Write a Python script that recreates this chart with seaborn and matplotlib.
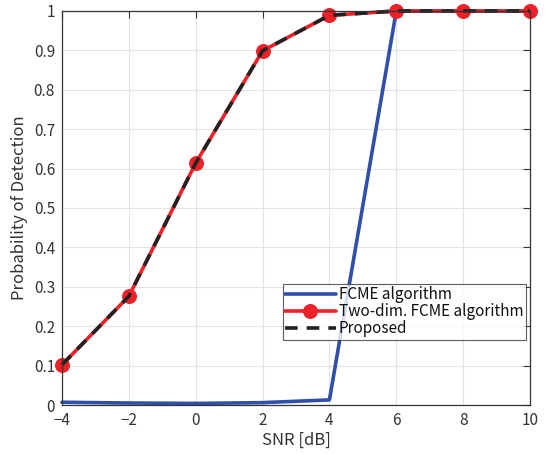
import matplotlib
matplotlib.use("Agg")
import matplotlib.pyplot as plt
import seaborn as sns
import pandas as pd

snr_db = [-4, -2, 0, 2, 4, 6, 8, 10]
fcme = [0.007, 0.005, 0.004, 0.006, 0.013, 1.0, 1.0, 1.0]
two_dim_fcme = [0.102, 0.276, 0.614, 0.899, 0.989, 1.0, 1.0, 1.0]
proposed = [0.102, 0.276, 0.614, 0.899, 0.989, 1.0, 1.0, 1.0]
x_ticks = [-4, -2, 0, 2, 4, 6, 8, 10]
y_ticks = [0, 0.1, 0.2, 0.3, 0.4, 0.5, 0.6, 0.7, 0.8, 0.9, 1]

sns.set_style("white")
plt.rcParams["font.family"] = ["Noto Sans CJK JP", "DejaVu Sans"]
plt.rcParams["axes.unicode_minus"] = True

df = pd.DataFrame({"snr": snr_db, "fcme": fcme, "two": two_dim_fcme, "prop": proposed})

fig = plt.figure(figsize=(5.52, 4.55), dpi=100)
ax = fig.add_axes([62 / 552, 1 - 405 / 455, 468 / 552, 394 / 455])

sns.lineplot(data=df, x="snr", y="fcme", ax=ax, color="#2f4fa8", lw=2.6,
             label="FCME algorithm")
sns.lineplot(data=df, x="snr", y="two", ax=ax, color="#ee2028", lw=2.6,
             marker="o", markersize=10, markeredgecolor="#ee2028",
             label="Two-dim. FCME algorithm")
sns.lineplot(data=df, x="snr", y="prop", ax=ax, color="#222222", lw=2.6,
             linestyle=(0, (3.5, 2.5)), label="Proposed")
for ln in ax.lines:
    ln.set_clip_on(False)

ax.set_xlim(-4, 10)
ax.set_ylim(0, 1)
ax.set_xticks(x_ticks)
ax.set_yticks(y_ticks)
ax.set_xticklabels([str(t).replace("-", "\u2212") for t in x_ticks])
ax.set_yticklabels(["0" if t == 0 else ("1" if t == 1 else f"{t:.1f}") for t in y_ticks])
ax.grid(True, color="#e3e3e3", lw=0.8)
ax.set_axisbelow(True)
ax.tick_params(direction="in", length=5, width=0.8, color="#333333",
               labelsize=11, labelcolor="#333333", top=True, right=True, pad=5)
for s in ax.spines.values():
    s.set_color("#333333")
    s.set_linewidth(0.9)
ax.set_xlabel("SNR [dB]", fontsize=12, color="#333333", labelpad=2)
ax.set_ylabel("Probability of Detection", fontsize=12, color="#333333", labelpad=4)

leg = ax.legend(loc="upper left", bbox_to_anchor=(0.472, 0.307), fontsize=11,
                frameon=True, fancybox=False, edgecolor="#333333",
                borderpad=0.15, labelspacing=0.0, handlelength=3.3,
                handletextpad=0.2, borderaxespad=0)
leg.get_frame().set_linewidth(0.8)
for t in leg.get_texts():
    t.set_color("#111111")

fig.savefig("out.png", dpi=100)
